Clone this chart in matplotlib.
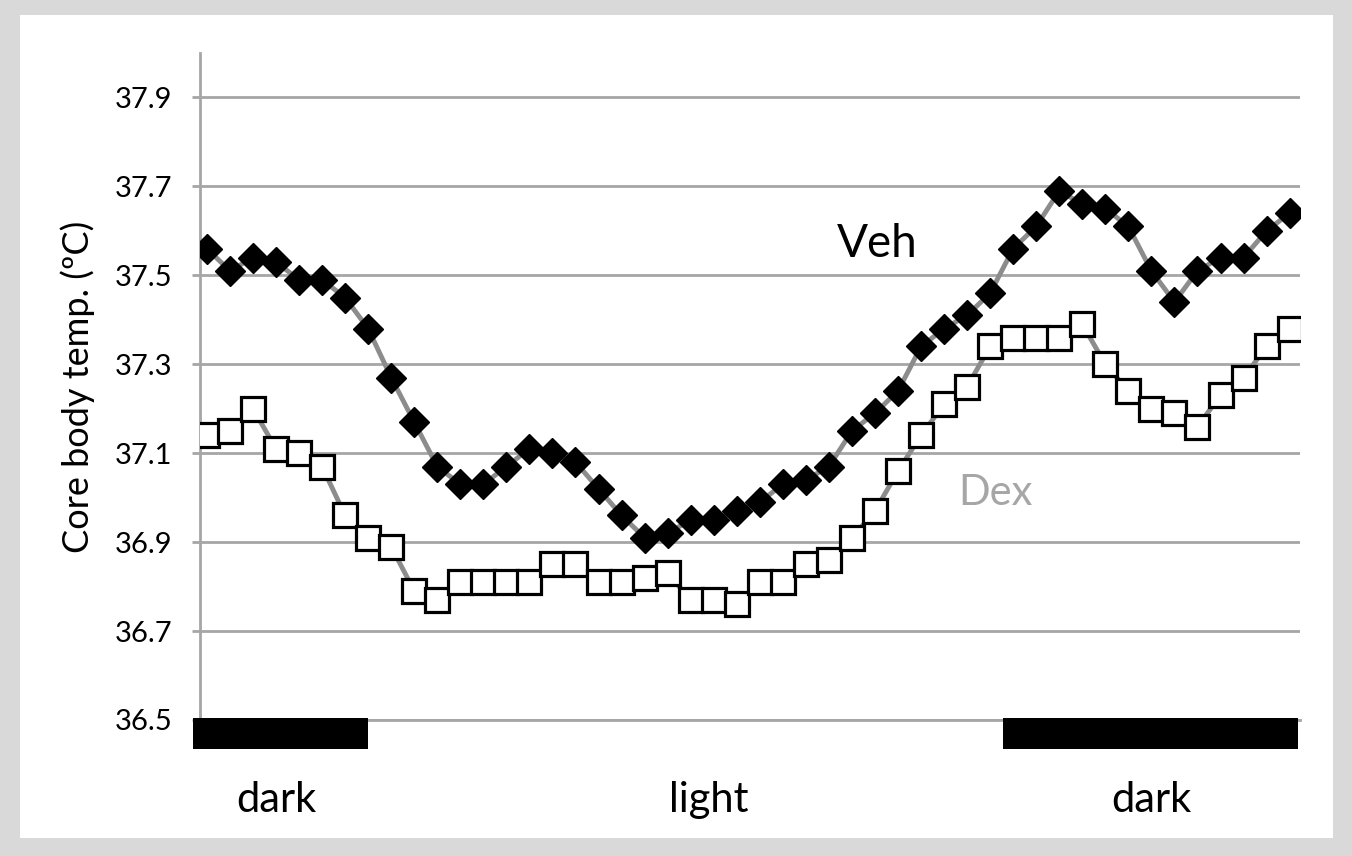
import numpy as np
import matplotlib.pyplot as plt
from matplotlib.patches import Rectangle

# Core body temperature over 48 time bins
veh = [37.56, 37.51, 37.54, 37.53, 37.49, 37.49, 37.45, 37.38, 37.27, 37.17,
       37.07, 37.03, 37.03, 37.07, 37.11, 37.10, 37.08, 37.02, 36.96, 36.91,
       36.92, 36.95, 36.95, 36.97, 36.99, 37.03, 37.04, 37.07, 37.15, 37.19,
       37.24, 37.34, 37.38, 37.41, 37.46, 37.56, 37.61, 37.69, 37.66, 37.65,
       37.61, 37.51, 37.44, 37.51, 37.54, 37.54, 37.60, 37.64]
dex = [37.14, 37.15, 37.20, 37.11, 37.10, 37.07, 36.96, 36.91, 36.89, 36.79,
       36.77, 36.81, 36.81, 36.81, 36.81, 36.85, 36.85, 36.81, 36.81, 36.82,
       36.83, 36.77, 36.77, 36.76, 36.81, 36.81, 36.85, 36.86, 36.91, 36.97,
       37.06, 37.14, 37.21, 37.25, 37.34, 37.36, 37.36, 37.36, 37.39, 37.30,
       37.24, 37.20, 37.19, 37.16, 37.23, 37.27, 37.34, 37.38]
yticks = [36.5, 36.7, 36.9, 37.1, 37.3, 37.5, 37.7, 37.9]

# dark periods (in time-bin units)
dark_spans = [(-0.6, 7.0), (34.55, 47.35)]
phase_labels = ['dark', 'light', 'dark']
phase_x = [3.0, 21.8, 41.0]

x = np.arange(len(veh))

plt.rcParams['font.family'] = ['Lato', 'DejaVu Sans']

fig = plt.figure(figsize=(13.52, 8.56), dpi=100)
fig.patch.set_facecolor('#d9d9d9')
fig.add_artist(Rectangle((20/1352, 18/856), 1313/1352, 823/856,
                         transform=fig.transFigure, facecolor='white',
                         edgecolor='none', zorder=0))

ax = fig.add_axes([200/1352, 1-720/856, 1100/1352, 667/856])
ax.set_facecolor('none')

ax.plot(x, veh, color='#8c8c8c', lw=3.5, marker='D', ms=15,
        mfc='black', mec='black', zorder=3)
ax.plot(x, dex, color='#8c8c8c', lw=3.5, marker='s', ms=17.5,
        mfc='white', mec='black', mew=2.3, zorder=3)

ax.set_xlim(-0.3, 47.45)
ax.set_ylim(36.5, 38.0)
ax.set_yticks(yticks)
ax.set_yticklabels(['%.1f' % t for t in yticks], fontsize=21)
ax.set_xticks([])
ax.yaxis.grid(True, color='#a6a6a6', lw=2)
ax.set_axisbelow(True)
ax.tick_params(axis='y', direction='out', length=6, width=2, color='#a6a6a6', pad=14)

for s in ['top', 'right']:
    ax.spines[s].set_visible(False)
ax.spines['left'].set_color('#a6a6a6')
ax.spines['left'].set_linewidth(2)
ax.spines['bottom'].set_color('#a6a6a6')
ax.spines['bottom'].set_linewidth(2)

ax.set_ylabel('Core body temp. (ºC)', fontsize=26, labelpad=14)

# dark/light bars below the axis
for x0, x1 in dark_spans:
    ax.add_patch(Rectangle((x0, 36.435), x1 - x0, 0.07, facecolor='black',
                           edgecolor='none', clip_on=False, zorder=4))
for lab, px in zip(phase_labels, phase_x):
    ax.text(px, 36.32, lab, fontsize=30, ha='center', va='center', clip_on=False)

ax.text(29.1, 37.57, 'Veh', fontsize=33, ha='center', va='center')
ax.text(34.25, 37.01, 'Dex', fontsize=30, ha='center', va='center', color='#a6a6a6')

plt.savefig('out.png', dpi=100, facecolor=fig.get_facecolor())
